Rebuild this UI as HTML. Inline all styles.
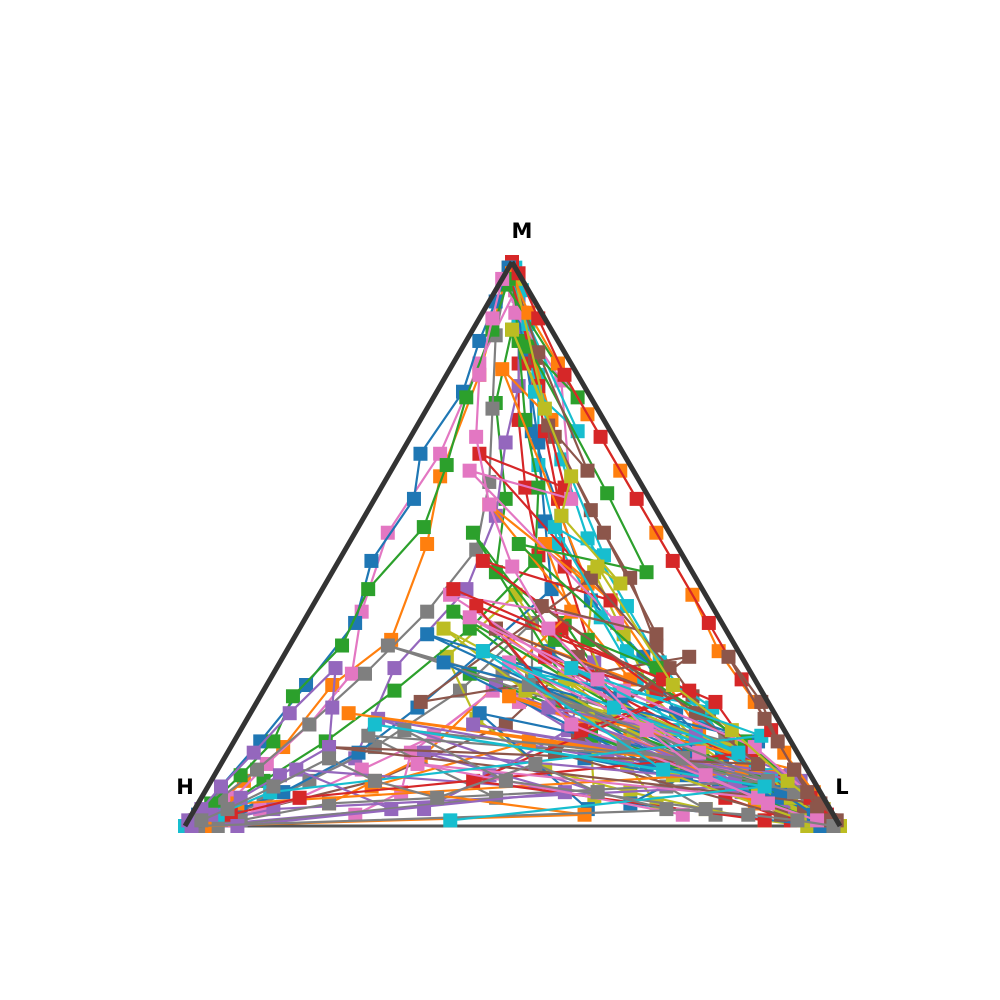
<!DOCTYPE html>
<html><head><meta charset="utf-8"><style>
html,body{margin:0;padding:0;background:#fff;}
svg{display:block;}
text{font-family:"DejaVu Sans","Liberation Sans",sans-serif;font-weight:bold;font-size:21px;}
</style></head><body>
<svg id="chart" width="1000" height="1000">
<g id="marks"></g>
<g id="frame">
<line x1="185" y1="826" x2="512" y2="262" stroke="#333" stroke-width="5"/>
<line x1="512" y1="262" x2="840" y2="826" stroke="#333" stroke-width="5"/>
</g>
<text x="522" y="238" text-anchor="middle">M</text>
<text x="185" y="794" text-anchor="middle">H</text>
<text x="842" y="794" text-anchor="middle">L</text>
</svg>
<script>
// each series: array of m fractions and l fractions (h = 1 - m - l)
const seriesM = [
[0.98,0.85,0.70,0.55,0.40,0.30,0.20,0.12,0.06,0.03,0.01,0.0],
[0.99,0.80,0.62,0.50,0.33,0.25,0.14,0.08,0.04,0.02,0.01,0.0],
[0.97,0.88,0.75,0.58,0.45,0.36,0.22,0.15,0.07,0.03,0.01,0.0],
[0.02,0.10,0.22,0.35,0.48,0.60,0.72,0.82,0.90,0.95,0.98,1.0],
[0.01,0.06,0.12,0.28,0.42,0.55,0.68,0.78,0.88,0.94,0.97,1.0],
[0.03,0.08,0.18,0.30,0.20,0.12,0.07,0.04,0.02,0.01,0.0,0.0],
[0.95,0.82,0.66,0.52,0.38,0.27,0.18,0.11,0.05,0.02,0.01,0.0],
[0.02,0.07,0.15,0.26,0.36,0.24,0.14,0.08,0.04,0.02,0.01,0.0],
[0.05,0.14,0.27,0.41,0.30,0.19,0.10,0.06,0.03,0.01,0.0,0.0],
[0.99,0.90,0.78,0.64,0.50,0.37,0.26,0.17,0.09,0.04,0.01,0.0],
[0.96,0.84,0.68,0.54,0.42,0.31,0.21,0.13,0.06,0.03,0.01,0.0],
[0.04,0.12,0.25,0.38,0.50,0.40,0.28,0.17,0.09,0.04,0.01,0.0],
[0.98,0.86,0.72,0.60,0.47,0.35,0.24,0.15,0.08,0.03,0.01,0.0],
[0.01,0.05,0.11,0.20,0.33,0.46,0.58,0.70,0.82,0.91,0.97,1.0],
[0.03,0.09,0.17,0.29,0.19,0.11,0.06,0.03,0.02,0.01,0.0,0.0],
[0.97,0.83,0.69,0.56,0.44,0.32,0.23,0.14,0.07,0.03,0.01,0.0],
[0.02,0.06,0.13,0.24,0.16,0.10,0.05,0.03,0.01,0.0,0.0,0.0],
[0.99,0.87,0.74,0.61,0.49,0.38,0.27,0.18,0.10,0.05,0.02,0.0],
[0.04,0.11,0.21,0.33,0.45,0.34,0.23,0.14,0.07,0.03,0.01,0.0],
[0.95,0.80,0.65,0.51,0.39,0.29,0.19,0.12,0.06,0.02,0.01,0.0],
[0.00,0.04,0.09,0.22,0.14,0.31,0.18,0.09,0.12,0.05,0.02,0.0],
[0.98,0.72,0.81,0.43,0.57,0.26,0.35,0.10,0.16,0.04,0.02,0.0],
[0.01,0.16,0.08,0.27,0.11,0.38,0.21,0.52,0.33,0.12,0.05,0.0],
[0.99,0.78,0.60,0.66,0.40,0.47,0.24,0.30,0.13,0.08,0.03,0.0],
[0.00,0.03,0.10,0.06,0.19,0.09,0.25,0.13,0.07,0.03,0.01,0.0],
[0.02,0.13,0.30,0.22,0.44,0.28,0.16,0.35,0.20,0.09,0.03,0.0],
[0.97,0.91,0.79,0.58,0.63,0.36,0.41,0.18,0.22,0.06,0.02,0.0],
[0.00,0.05,0.16,0.12,0.27,0.19,0.32,0.15,0.08,0.04,0.01,0.0],
[0.01,0.09,0.19,0.14,0.24,0.35,0.17,0.26,0.11,0.05,0.02,0.0],
[0.99,0.89,0.70,0.77,0.48,0.53,0.31,0.21,0.27,0.09,0.03,0.0],
[0.03,0.20,0.12,0.34,0.23,0.15,0.29,0.11,0.06,0.02,0.01,0.0],
[0.00,0.02,0.07,0.15,0.10,0.20,0.12,0.23,0.10,0.04,0.01,0.0],
[0.96,0.76,0.85,0.59,0.45,0.50,0.28,0.33,0.15,0.07,0.02,0.0],
[0.01,0.08,0.24,0.17,0.39,0.26,0.42,0.22,0.13,0.05,0.02,0.0],
[0.00,0.06,0.13,0.08,0.21,0.16,0.09,0.18,0.08,0.03,0.01,0.0],
[0.98,0.84,0.63,0.71,0.52,0.34,0.39,0.20,0.11,0.14,0.04,0.0],
[0.02,0.11,0.05,0.18,0.29,0.13,0.37,0.24,0.14,0.06,0.02,0.0],
[0.00,0.03,0.08,0.17,0.12,0.25,0.08,0.14,0.06,0.02,0.01,0.0],
[0.97,0.74,0.88,0.62,0.55,0.43,0.46,0.25,0.17,0.08,0.03,0.0],
[0.01,0.07,0.18,0.10,0.31,0.21,0.13,0.28,0.16,0.06,0.02,0.0],
[0.99,0.93,0.86,0.77,0.66,0.58,0.47,0.36,0.25,0.15,0.07,0.02],
[0.98,0.91,0.82,0.73,0.63,0.52,0.41,0.31,0.22,0.13,0.06,0.01],
[0.01,0.04,0.09,0.15,0.23,0.32,0.42,0.53,0.64,0.76,0.88,0.97],
[0.02,0.05,0.10,0.17,0.26,0.36,0.47,0.58,0.69,0.80,0.90,0.98],
[0.00,0.02,0.05,0.09,0.14,0.21,0.28,0.20,0.13,0.07,0.03,0.01],
[0.00,0.01,0.03,0.06,0.10,0.15,0.22,0.30,0.19,0.10,0.04,0.01],
[0.97,0.90,0.80,0.69,0.57,0.46,0.35,0.26,0.17,0.09,0.04,0.01],
[0.01,0.03,0.07,0.12,0.08,0.05,0.11,0.06,0.03,0.02,0.01,0.0]
];
const seriesL = [
[0.01,0.10,0.18,0.30,0.42,0.55,0.65,0.76,0.86,0.92,0.97,1.0],
[0.00,0.05,0.08,0.12,0.15,0.10,0.08,0.05,0.03,0.02,0.01,0.0],
[0.02,0.06,0.10,0.20,0.25,0.40,0.55,0.70,0.82,0.90,0.96,0.99],
[0.90,0.75,0.55,0.40,0.30,0.22,0.15,0.10,0.06,0.03,0.01,0.0],
[0.05,0.12,0.20,0.18,0.22,0.20,0.15,0.12,0.07,0.04,0.02,0.0],
[0.10,0.25,0.40,0.45,0.55,0.68,0.78,0.86,0.92,0.96,0.99,1.0],
[0.03,0.04,0.06,0.05,0.08,0.12,0.10,0.07,0.05,0.03,0.01,0.0],
[0.80,0.70,0.55,0.40,0.35,0.30,0.22,0.15,0.10,0.05,0.02,0.0],
[0.60,0.55,0.45,0.30,0.25,0.35,0.50,0.65,0.78,0.88,0.95,0.99],
[0.01,0.06,0.15,0.22,0.32,0.45,0.56,0.66,0.77,0.87,0.95,1.0],
[0.02,0.10,0.20,0.28,0.35,0.30,0.25,0.20,0.12,0.07,0.03,0.0],
[0.20,0.30,0.35,0.40,0.30,0.45,0.58,0.70,0.82,0.90,0.96,1.0],
[0.01,0.08,0.16,0.24,0.30,0.26,0.20,0.14,0.08,0.04,0.02,0.0],
[0.92,0.80,0.70,0.55,0.45,0.35,0.28,0.20,0.12,0.06,0.02,0.0],
[0.35,0.42,0.50,0.48,0.60,0.72,0.82,0.90,0.95,0.98,0.99,1.0],
[0.02,0.12,0.22,0.34,0.46,0.56,0.66,0.76,0.85,0.92,0.97,1.0],
[0.25,0.30,0.28,0.35,0.30,0.22,0.15,0.10,0.06,0.03,0.01,0.0],
[0.00,0.04,0.10,0.16,0.20,0.18,0.14,0.10,0.06,0.03,0.01,0.0],
[0.70,0.62,0.55,0.45,0.40,0.50,0.60,0.72,0.84,0.92,0.97,1.0],
[0.04,0.14,0.25,0.36,0.48,0.58,0.70,0.80,0.88,0.94,0.98,1.0],
[0.97,0.66,0.72,0.48,0.70,0.40,0.62,0.80,0.55,0.88,0.96,1.0],
[0.01,0.20,0.08,0.40,0.18,0.55,0.30,0.72,0.60,0.85,0.94,1.0],
[0.96,0.54,0.83,0.30,0.75,0.22,0.50,0.18,0.40,0.70,0.90,0.99],
[0.00,0.15,0.28,0.12,0.45,0.22,0.60,0.40,0.76,0.86,0.95,1.0],
[0.02,0.30,0.12,0.60,0.20,0.75,0.35,0.58,0.80,0.12,0.05,0.0],
[0.90,0.50,0.62,0.25,0.40,0.60,0.52,0.30,0.70,0.85,0.93,1.0],
[0.01,0.05,0.18,0.30,0.12,0.48,0.20,0.62,0.40,0.90,0.97,1.0],
[0.05,0.45,0.20,0.70,0.35,0.55,0.15,0.75,0.85,0.20,0.08,0.0],
[0.94,0.70,0.52,0.78,0.40,0.22,0.60,0.45,0.82,0.90,0.96,1.0],
[0.00,0.08,0.25,0.15,0.40,0.30,0.52,0.70,0.40,0.85,0.95,1.0],
[0.60,0.35,0.72,0.20,0.55,0.80,0.25,0.65,0.88,0.95,0.98,1.0],
[0.03,0.60,0.25,0.45,0.80,0.15,0.70,0.38,0.88,0.06,0.02,0.0],
[0.01,0.22,0.10,0.35,0.48,0.26,0.58,0.45,0.78,0.90,0.97,1.0],
[0.88,0.40,0.65,0.52,0.25,0.60,0.20,0.70,0.80,0.15,0.06,0.0],
[0.08,0.55,0.30,0.80,0.45,0.70,0.88,0.35,0.90,0.96,0.98,1.0],
[0.01,0.12,0.30,0.20,0.38,0.55,0.35,0.68,0.82,0.15,0.95,1.0],
[0.75,0.30,0.85,0.50,0.35,0.72,0.25,0.55,0.80,0.92,0.97,1.0],
[0.02,0.78,0.45,0.25,0.70,0.40,0.85,0.60,0.90,0.96,0.98,1.0],
[0.02,0.18,0.06,0.28,0.30,0.45,0.40,0.62,0.75,0.88,0.96,1.0],
[0.40,0.85,0.20,0.68,0.30,0.55,0.78,0.45,0.80,0.10,0.04,0.0],
[0.00,0.01,0.02,0.04,0.03,0.06,0.05,0.08,0.06,0.04,0.02,0.01],
[0.01,0.07,0.16,0.25,0.35,0.46,0.57,0.66,0.76,0.85,0.93,0.98],
[0.01,0.02,0.04,0.06,0.05,0.08,0.07,0.10,0.08,0.05,0.03,0.01],
[0.97,0.93,0.88,0.81,0.72,0.62,0.51,0.40,0.29,0.18,0.09,0.02],
[0.01,0.03,0.06,0.10,0.15,0.12,0.09,0.06,0.04,0.02,0.01,0.0],
[0.99,0.97,0.95,0.92,0.88,0.83,0.77,0.68,0.79,0.88,0.95,0.99],
[0.00,0.02,0.05,0.10,0.18,0.27,0.38,0.50,0.62,0.75,0.87,0.96],
[0.02,0.05,0.10,0.16,0.25,0.36,0.48,0.60,0.72,0.85,0.93,0.99]
];
const colors = ['#1f77b4','#ff7f0e','#2ca02c','#d62728','#9467bd','#8c564b','#e377c2','#7f7f7f','#bcbd22','#17becf'];
const HX=185, LX=840, MX=512, BY=826, TY=262;
function px(m,l){ return HX + (LX-HX)*l + (MX-HX)*m; }
function py(m){ return BY - (BY-TY)*m; }
const g=document.getElementById('marks');
const NS='http://www.w3.org/2000/svg';
const base=document.createElementNS(NS,'line');
base.setAttribute('x1',HX);base.setAttribute('y1',BY);base.setAttribute('x2',LX);base.setAttribute('y2',BY);
base.setAttribute('stroke','#555');base.setAttribute('stroke-width','3');


g.appendChild(base);
seriesM.forEach((ms,i)=>{
  const ls=seriesL[i]; const c=colors[i%10];
  const pts=ms.map((m,j)=>{ let l=Math.min(ls[j],1-m); return [px(m,l),py(m)]; });
  const pl=document.createElementNS(NS,'polyline');
  pl.setAttribute('points',pts.map(p=>p.join(',')).join(' '));
  pl.setAttribute('fill','none');pl.setAttribute('stroke',c);pl.setAttribute('stroke-width','2.2');
  
  
  g.appendChild(pl);
  pts.forEach(p=>{
    const r=document.createElementNS(NS,'rect');
    r.setAttribute('x',p[0]-7);r.setAttribute('y',p[1]-7);r.setAttribute('width',14);r.setAttribute('height',14);
    r.setAttribute('fill',c);
    
    
    g.appendChild(r);
  });
});
</script>
</body></html>
